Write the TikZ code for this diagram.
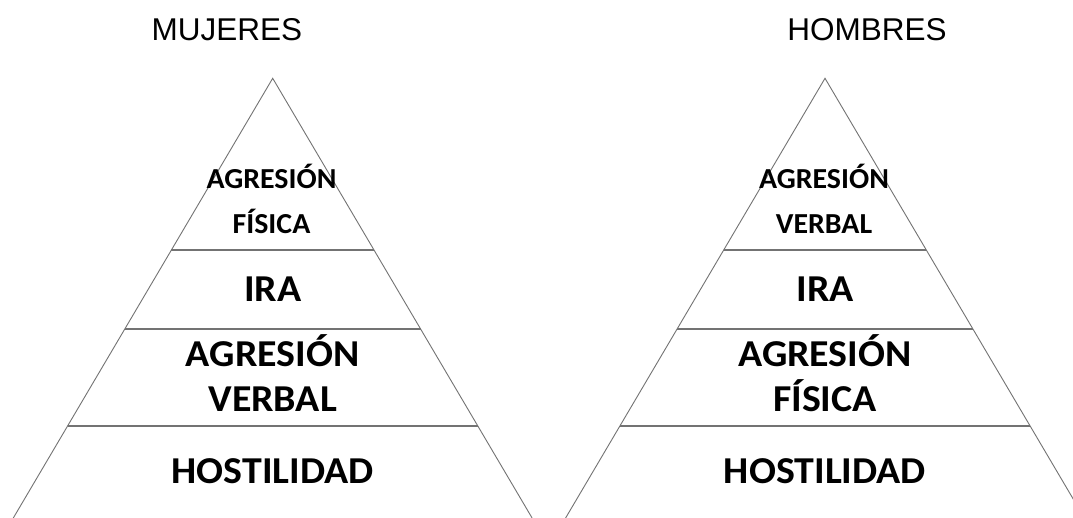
\documentclass[tikz,border=0pt]{standalone}
\usepackage{fontspec}
\setmainfont{Carlito}
\newfontfamily\titlefont{Liberation Sans}
\newcommand{\widebig}[1]{\scalebox{1.05}[1]{#1}}
\newcommand{\widesmall}[1]{\scalebox{1.03}[1]{#1}}
\begin{document}
\begin{tikzpicture}[x=1pt,y=-1pt,
  edge/.style={draw=black!55,line width=0.9pt,line join=miter},
  sep/.style={draw=black!55,line width=1.1pt},
  ttl/.style={anchor=base,inner sep=0pt,font=\titlefont\fontsize{31.5}{36}\selectfont},
  small/.style={anchor=base,inner sep=0pt,font=\bfseries\fontsize{29}{34}\selectfont},
  big/.style={anchor=base,inner sep=0pt,font=\bfseries\fontsize{38}{44}\selectfont}]
\useasboundingbox (0,0) rectangle (1073,518);
\clip (0,0) rectangle (1073,518);
\fill[white] (0,0) rectangle (1073,518);
% ---- left pyramid (MUJERES)
\coordinate (LA) at (272.7,78.3);
\coordinate (LBL) at (13.3,518);
\coordinate (LBR) at (532.1,518);
\coordinate (L1l) at (171.4,250); \coordinate (L1r) at (374.0,250);
\coordinate (L2l) at (124.8,329); \coordinate (L2r) at (420.6,329);
\coordinate (L3l) at (67.6,426);  \coordinate (L3r) at (477.8,426);
\draw[edge] (LBL) -- (LA) -- (LBR);
\draw[sep] (L1l) -- (L1r);
\draw[sep] (L2l) -- (L2r);
\draw[sep] (L3l) -- (L3r);
% ---- right pyramid (HOMBRES)
\coordinate (RA) at (825,78.3);
\coordinate (RBL) at (565.6,518);
\coordinate (RBR) at (1084.4,518);
\coordinate (R1l) at (723.7,250); \coordinate (R1r) at (926.3,250);
\coordinate (R2l) at (677.1,329); \coordinate (R2r) at (972.9,329);
\coordinate (R3l) at (619.9,426); \coordinate (R3r) at (1030.1,426);
\draw[edge] (RBL) -- (RA) -- (RBR);
\draw[sep] (R1l) -- (R1r);
\draw[sep] (R2l) -- (R2r);
\draw[sep] (R3l) -- (R3r);
% ---- titles
\node[ttl] (tm) at (227,40.7) {MUJERES};
\node[ttl] (th) at (867,40.7) {HOMBRES};
% ---- left labels
\node[small] (la1) at (271.5,188.3) {\widesmall{AGRESIÓN}};
\node[small] (la2) at (271.5,233.3) {\widesmall{FÍSICA}};
\node[big] (lira) at (272.7,301.7) {\widebig{IRA}};
\node[big] (lav1) at (272.7,366.7) {\widebig{AGRESIÓN}};
\node[big] (lav2) at (272.7,411.7) {\widebig{VERBAL}};
\node[big] (lh) at (272.7,483.3) {\widebig{HOSTILIDAD}};
% ---- right labels
\node[small] (ra1) at (824,188.3) {\widesmall{AGRESIÓN}};
\node[small] (ra2) at (824,233.3) {\widesmall{VERBAL}};
\node[big] (rira) at (825,301.7) {\widebig{IRA}};
\node[big] (raf1) at (825,366.7) {\widebig{AGRESIÓN}};
\node[big] (raf2) at (825,411.7) {\widebig{FÍSICA}};
\node[big] (rh) at (825,483.3) {\widebig{HOSTILIDAD}};
\end{tikzpicture}
\end{document}
